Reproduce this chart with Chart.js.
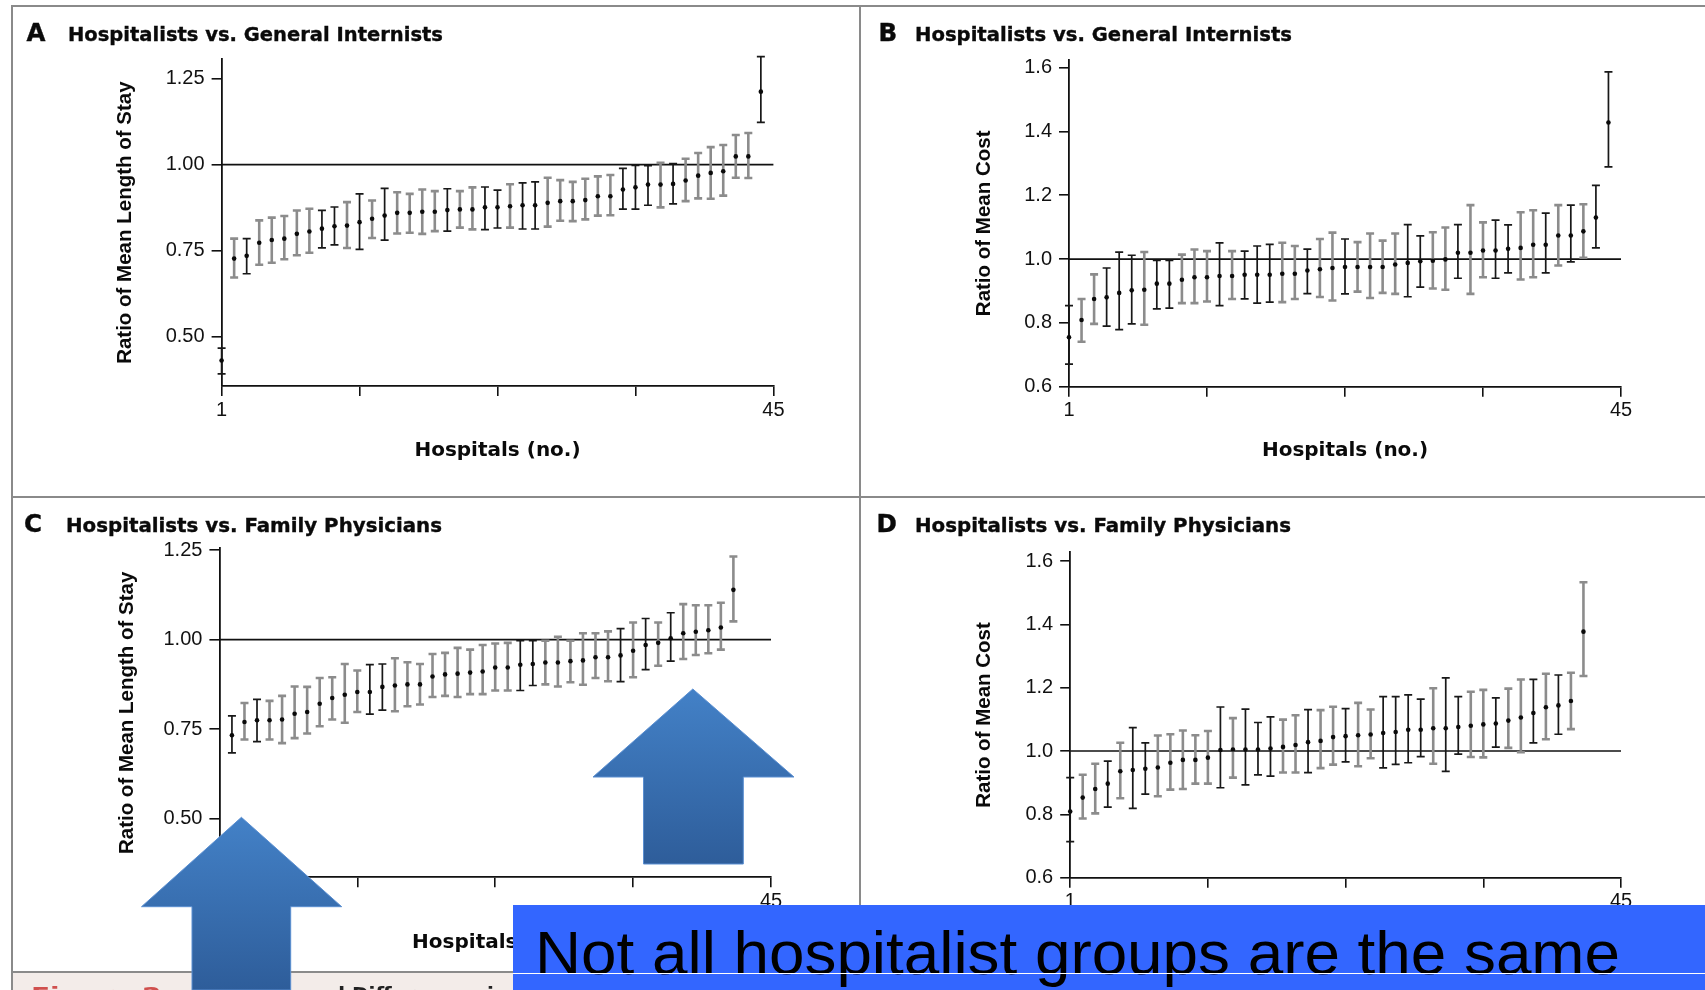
<!DOCTYPE html>
<html>
<head>
<meta charset="utf-8">
<script src="https://cdn.jsdelivr.net/npm/chart.js@4.4.1/dist/chart.umd.min.js"></script>
<style>
  html, body { margin: 0; padding: 0; background: #fff; }
  body { width: 1705px; height: 990px; position: relative; overflow: hidden; }
  .rule { position: absolute; background: #8a8a8a; }
  canvas { position: absolute; }
  .ptitle, .pletter, .cap, .banner-text {
    position: absolute; white-space: nowrap; line-height: 1; transform-origin: 0 0;
  }
  .ptitle { font-family: "DejaVu Sans", sans-serif; font-weight: bold; font-size: 19.5px; color: #0a0a0a; -webkit-text-stroke: 0.35px #0a0a0a; }
  .pletter { font-family: "DejaVu Sans", sans-serif; font-weight: bold; font-size: 24.5px; color: #0a0a0a; -webkit-text-stroke: 0.4px #0a0a0a; }
  .cap { font-family: "DejaVu Sans", sans-serif; font-weight: bold; font-size: 20px; color: #222; }
  .banner { position: absolute; left: 513px; top: 905px; width: 1192px; height: 85px; background: #3366ff; overflow: hidden; }
  .banner-text { font-family: "Liberation Sans", Arial, sans-serif; font-size: 61px; color: #000; }
  svg { position: absolute; left: 0; top: 0; }
</style>
</head>
<body>

<!-- panel frame -->
<div class="rule" style="left:11px; top:5px; width:1694px; height:2px;"></div>
<div class="rule" style="left:11px; top:5px; width:2px; height:985px;"></div>
<div class="rule" style="left:859px; top:5px; width:2px; height:900px;"></div>
<div class="rule" style="left:11px; top:496px; width:1694px; height:2px;"></div>

<canvas id="cA"></canvas>
<canvas id="cB"></canvas>
<canvas id="cC"></canvas>
<canvas id="cD"></canvas>

<div class="pletter" style="left:26.5px; top:20.9px;">A</div>
<div class="ptitle" id="tA" style="left:68.3px; top:25.2px;">Hospitalists vs. General Internists</div>
<div class="pletter" style="left:878.5px; top:20.5px;">B</div>
<div class="ptitle" id="tB" style="left:915px; top:24.7px;">Hospitalists vs. General Internists</div>
<div class="pletter" style="left:24px; top:512.2px;">C</div>
<div class="ptitle" id="tC" style="left:66.3px; top:516.3px;">Hospitalists vs. Family Physicians</div>
<div class="pletter" style="left:876.5px; top:512.2px;">D</div>
<div class="ptitle" id="tD" style="left:915px; top:516.3px;">Hospitalists vs. Family Physicians</div>

<!-- caption strip under the panels -->
<div style="position:absolute; left:13px; top:973px; width:500px; height:17px; background:#f3ece9;"></div>
<div class="rule" style="left:11px; top:971px; width:502px; height:2px;"></div>
<div class="cap" id="capRed" style="left:31px; top:984px; color:#d0504e;">Figure 2.</div>
<div class="cap" style="left:225px; top:984px;">Ratios and Differences in Length of Stay and Cost.</div>

<div class="banner">
  <div class="banner-text" id="bannerText" style="left:22px; top:18.4px;">Not all hospitalist groups are the same</div>
  <div style="position:absolute; left:0; top:67.5px; width:1192px; height:1px; background:#fff;"></div>
</div>

<svg width="1705" height="990" viewBox="0 0 1705 990">
  <defs>
    <linearGradient id="arrowFill" x1="0" y1="0" x2="0" y2="1">
      <stop offset="0" stop-color="#4381c7"/>
      <stop offset="1" stop-color="#2e5d9a"/>
    </linearGradient>
  </defs>
  <polygon points="241.4,817.3 341.7,906.7 290.7,906.7 290.7,990 192,990 192,906.7 141.5,906.7"
           fill="url(#arrowFill)" stroke="#5b8fd1" stroke-width="1"/>
  <polygon points="692.8,689 794,777 743.3,777 743.3,864 643.5,864 643.5,777 593,777"
           fill="url(#arrowFill)" stroke="#5b8fd1" stroke-width="1"/>
</svg>

<script>
// ---- data: hospital-level ratios (point estimate with 95% interval), sorted by estimate ----
const ranks = n => Array.from({ length: n }, (_, i) => i + 1);

const xTickValues = [1, 12, 23, 34, 45];
const xTickLabels = ['1', '', '', '', '45'];

const losTicks = [0.50, 0.75, 1.00, 1.25];
const losTickLabels = ['0.50', '0.75', '1.00', '1.25'];
const costTicks = [0.6, 0.8, 1.0, 1.2, 1.4, 1.6];
const costTickLabels = ['0.6', '0.8', '1.0', '1.2', '1.4', '1.6'];
const refRatio = 1.0;

// A: length of stay, hospitalists vs. general internists
const hospA = ranks(44);
const losGiEst = [0.431,0.727,0.735,0.773,0.781,0.785,0.799,0.806,0.814,0.821,0.823,0.833,0.843,0.852,0.860,0.860,0.863,0.863,0.868,0.870,0.870,0.876,0.876,0.879,0.882,0.882,0.889,0.894,0.894,0.897,0.908,0.908,0.928,0.934,0.942,0.942,0.944,0.954,0.968,0.976,0.981,1.024,1.024,1.212];
const losGiLow = [0.392,0.672,0.683,0.709,0.715,0.725,0.737,0.744,0.758,0.767,0.758,0.754,0.787,0.781,0.800,0.802,0.799,0.807,0.807,0.817,0.812,0.811,0.816,0.817,0.813,0.813,0.820,0.837,0.836,0.841,0.852,0.853,0.871,0.871,0.882,0.876,0.886,0.894,0.902,0.901,0.910,0.962,0.961,1.123];
const losGiHigh = [0.467,0.785,0.785,0.838,0.846,0.851,0.867,0.872,0.867,0.877,0.891,0.915,0.896,0.931,0.920,0.915,0.928,0.923,0.930,0.923,0.934,0.935,0.926,0.943,0.947,0.950,0.962,0.955,0.950,0.959,0.966,0.970,0.989,0.998,0.997,1.005,1.003,1.017,1.034,1.051,1.057,1.086,1.092,1.314];
const losGiMarked = [1,3,9,10,12,14,19,22,23,25,26,33,34,35,37,44];

// B: cost, hospitalists vs. general internists
const hospB = ranks(44);
const costGiEst = [0.755,0.809,0.875,0.880,0.894,0.902,0.904,0.923,0.923,0.935,0.943,0.943,0.947,0.947,0.951,0.951,0.951,0.954,0.954,0.964,0.968,0.972,0.975,0.975,0.975,0.975,0.983,0.988,0.993,0.995,0.999,1.020,1.020,1.027,1.027,1.032,1.035,1.045,1.045,1.074,1.074,1.087,1.130,1.428];
const costGiLow = [0.671,0.741,0.797,0.790,0.779,0.797,0.794,0.844,0.846,0.862,0.862,0.867,0.854,0.875,0.875,0.862,0.865,0.865,0.875,0.892,0.881,0.870,0.891,0.898,0.878,0.894,0.891,0.882,0.912,0.908,0.904,0.940,0.891,0.943,0.940,0.957,0.936,0.943,0.957,0.980,0.991,1.004,1.035,1.289];
const costGiHigh = [0.854,0.875,0.952,0.972,1.022,1.012,1.022,0.996,0.996,1.014,1.030,1.025,1.051,1.025,1.025,1.041,1.046,1.051,1.041,1.031,1.063,1.083,1.063,1.053,1.080,1.058,1.080,1.108,1.073,1.084,1.099,1.108,1.169,1.115,1.122,1.107,1.147,1.153,1.144,1.169,1.169,1.172,1.231,1.587];
const costGiMarked = [1,4,5,6,8,9,13,15,16,17,20,23,28,29,32,35,36,39,41,43,44];

// C: length of stay, hospitalists vs. family physicians
const hospC = ranks(42);
const losFpEst = [0.390,0.733,0.770,0.775,0.775,0.777,0.793,0.798,0.821,0.837,0.846,0.854,0.854,0.868,0.872,0.875,0.875,0.897,0.903,0.905,0.908,0.911,0.922,0.922,0.930,0.932,0.936,0.936,0.940,0.942,0.951,0.951,0.956,0.969,0.985,0.991,1.004,1.018,1.022,1.026,1.034,1.139];
const losFpLow = [0.355,0.684,0.721,0.715,0.721,0.711,0.725,0.738,0.758,0.777,0.768,0.798,0.792,0.803,0.800,0.814,0.819,0.840,0.843,0.840,0.848,0.848,0.858,0.858,0.858,0.872,0.875,0.869,0.881,0.874,0.893,0.884,0.883,0.895,0.916,0.927,0.940,0.946,0.957,0.962,0.972,1.051];
const losFpHigh = [0.430,0.787,0.823,0.833,0.829,0.843,0.869,0.868,0.893,0.895,0.932,0.914,0.930,0.932,0.948,0.937,0.932,0.960,0.963,0.977,0.972,0.985,0.989,0.991,0.997,0.997,0.997,1.008,0.997,1.018,1.018,1.023,1.031,1.048,1.059,1.048,1.075,1.099,1.096,1.096,1.103,1.232];
const losFpMarked = [1,2,4,13,14,25,26,33,35,37];

// D: cost, hospitalists vs. family physicians
const hospD = ranks(42);
const costFpEst = [0.809,0.853,0.880,0.897,0.936,0.940,0.944,0.948,0.963,0.972,0.972,0.979,1.003,1.005,1.005,1.005,1.008,1.013,1.019,1.028,1.032,1.044,1.047,1.050,1.052,1.057,1.060,1.067,1.067,1.072,1.072,1.076,1.080,1.084,1.087,1.096,1.106,1.120,1.138,1.144,1.158,1.377];
const costFpLow = [0.714,0.787,0.803,0.823,0.851,0.819,0.864,0.857,0.878,0.880,0.897,0.897,0.884,0.916,0.893,0.925,0.921,0.932,0.932,0.932,0.946,0.957,0.966,0.952,0.977,0.947,0.958,0.963,0.982,0.960,0.936,0.990,0.981,0.980,1.012,1.010,0.996,1.026,1.037,1.053,1.069,1.237];
const costFpHigh = [0.916,0.925,0.960,0.968,1.026,1.074,1.026,1.049,1.053,1.065,1.050,1.063,1.139,1.104,1.132,1.090,1.108,1.099,1.113,1.131,1.129,1.140,1.134,1.152,1.131,1.172,1.172,1.177,1.164,1.198,1.231,1.172,1.187,1.193,1.168,1.197,1.226,1.226,1.244,1.240,1.247,1.533];
const costFpMarked = [1,4,6,7,13,15,16,17,20,23,26,27,28,29,31,32,35,38,40];

// ---- drawing ----
Chart.defaults.font.family = '"Liberation Sans", Arial, sans-serif';
Chart.defaults.color = '#111';

// vertical interval whiskers plus the reference line at ratio 1
const errorBarPlugin = {
  id: 'errorBars',
  beforeDatasetsDraw(chart, args, opts) {
    const { ctx, chartArea, scales: { x, y } } = chart;
    ctx.save();
    const yr = y.getPixelForValue(opts.ref);
    ctx.strokeStyle = '#111';
    ctx.lineWidth = 1.7;
    ctx.beginPath();
    ctx.moveTo(chartArea.left, yr);
    ctx.lineTo(chartArea.right, yr);
    ctx.stroke();
    const cap = 4;
    chart.data.datasets[0].data.forEach(p => {
      const px = x.getPixelForValue(p.x);
      const top = y.getPixelForValue(p.hi);
      const bot = y.getPixelForValue(p.lo);
      ctx.strokeStyle = p.marked ? '#181818' : '#8c8c8c';
      ctx.lineWidth = p.marked ? 1.7 : 2.6;
      ctx.beginPath();
      ctx.moveTo(px, top); ctx.lineTo(px, bot);
      ctx.moveTo(px - cap, top); ctx.lineTo(px + cap, top);
      ctx.moveTo(px - cap, bot); ctx.lineTo(px + cap, bot);
      ctx.stroke();
    });
    ctx.restore();
  }
};

function makePanel(p) {
  const cv = document.getElementById(p.id);
  const [bx, by, bw, bh] = p.box;
  const [al, at, ar, ab] = p.area;
  cv.width = bw; cv.height = bh;
  cv.style.left = bx + 'px'; cv.style.top = by + 'px';
  const yW = al - bx, padTop = at - by, padRight = bx + bw - ar, xH = by + bh - ab;

  const points = p.hosp.map((h, i) => ({
    x: h, y: p.est[i], lo: p.low[i], hi: p.high[i], marked: p.marked.includes(h)
  }));

  return new Chart(cv, {
    type: 'scatter',
    data: {
      datasets: [{
        data: points,
        pointRadius: 2.3,
        pointHoverRadius: 2.3,
        pointBackgroundColor: '#0a0a0a',
        pointBorderWidth: 0,
        clip: false
      }]
    },
    options: {
      responsive: false,
      animation: false,
      devicePixelRatio: 1,
      events: [],
      layout: { padding: { left: 0, top: padTop, right: padRight, bottom: 0 }, autoPadding: false },
      plugins: { legend: { display: false }, tooltip: { enabled: false }, errorBars: { ref: refRatio } },
      scales: {
        x: {
          type: 'linear', min: 1, max: 45,
          afterBuildTicks: s => { s.ticks = xTickValues.map(v => ({ value: v })); },
          afterFit: s => { s.height = xH; },
          ticks: { callback: (v, i) => xTickLabels[i], font: { size: 20 }, color: '#111', padding: 2, maxRotation: 0, autoSkip: false },
          grid: { drawOnChartArea: false, drawTicks: true, tickLength: 10, color: '#111', lineWidth: 1.6 },
          border: { display: true, color: '#111', width: 1.8 },
          title: {
            display: true, text: 'Hospitals (no.)', color: '#0a0a0a',
            font: { family: '"DejaVu Sans", sans-serif', weight: 'bold', size: 20 },
            padding: { top: 0, bottom: p.xTitlePad }
          }
        },
        y: {
          type: 'linear', min: p.yMin, max: p.yMax,
          afterBuildTicks: s => { s.ticks = p.yTicks.map(v => ({ value: v })); },
          afterFit: s => { s.width = yW; },
          ticks: { callback: (v, i) => p.yLabels[i], font: { size: 20 }, color: '#111', padding: 7 },
          grid: { drawOnChartArea: false, drawTicks: true, tickLength: 10, color: '#111', lineWidth: 1.6 },
          border: { display: true, color: '#111', width: 1.8 },
          title: {
            display: true, text: p.yTitle, color: '#0a0a0a',
            font: { weight: 'bold', size: 20.5 },
            padding: { top: p.yTitlePad, bottom: 0 }
          }
        }
      }
    },
    plugins: [errorBarPlugin]
  });
}

makePanel({ id: 'cA', box: [11, 6, 848, 491], area: [221.6, 59.3, 773.4, 386],
  yMin: 0.357, yMax: 1.306, yTicks: losTicks, yLabels: losTickLabels,
  yTitle: 'Ratio of Mean Length of Stay', yTitlePad: 102.4, xTitlePad: 34,
  hosp: hospA, est: losGiEst, low: losGiLow, high: losGiHigh, marked: losGiMarked });

makePanel({ id: 'cB', box: [860, 6, 845, 491], area: [1069, 60, 1621, 386.7],
  yMin: 0.6, yMax: 1.624, yTicks: costTicks, yLabels: costTickLabels,
  yTitle: 'Ratio of Mean Cost', yTitlePad: 111.6, xTitlePad: 34,
  hosp: hospB, est: costGiEst, low: costGiLow, high: costGiHigh, marked: costGiMarked });

makePanel({ id: 'cC', box: [11, 498, 848, 474], area: [219.4, 548.4, 771, 877.3],
  yMin: 0.3365, yMax: 1.2547, yTicks: losTicks, yLabels: losTickLabels,
  yTitle: 'Ratio of Mean Length of Stay', yTitlePad: 103.7, xTitlePad: 17.5,
  hosp: hospC, est: losFpEst, low: losFpLow, high: losFpHigh, marked: losFpMarked });

makePanel({ id: 'cD', box: [860, 498, 845, 474], area: [1070.2, 552.3, 1621, 877.7],
  yMin: 0.6, yMax: 1.6275, yTicks: costTicks, yLabels: costTickLabels,
  yTitle: 'Ratio of Mean Cost', yTitlePad: 111.6, xTitlePad: 17.5,
  hosp: hospD, est: costFpEst, low: costFpLow, high: costFpHigh, marked: costFpMarked });

// stretch headline texts to their set widths
function fitWidth(id, w) {
  const el = document.getElementById(id);
  const r = el.getBoundingClientRect().width;
  if (r > 0) el.style.transform = 'scaleX(' + (w / r) + ')';
}
fitWidth('tA', 375);
fitWidth('tB', 377);
fitWidth('tC', 376);
fitWidth('tD', 376);
fitWidth('capRed', 141);
fitWidth('bannerText', 1085);
</script>
</body>
</html>
